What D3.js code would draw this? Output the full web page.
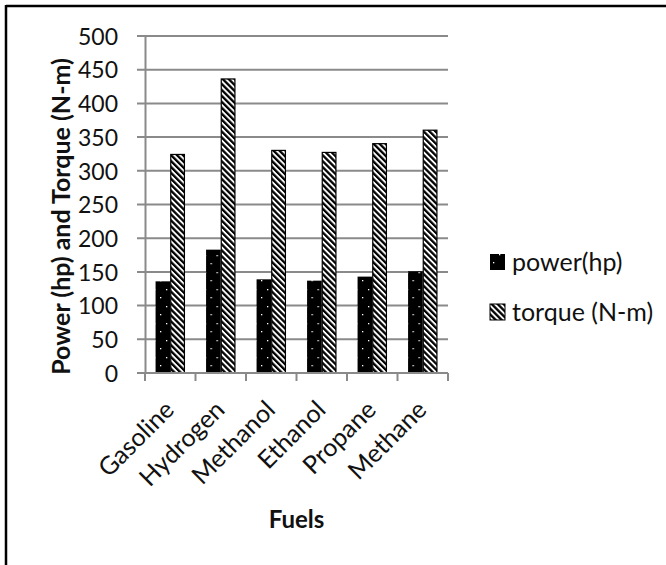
<!DOCTYPE html>
<html>
<head>
<meta charset="utf-8">
<script src="https://cdn.jsdelivr.net/npm/d3@7"></script>
<style>
  html, body { margin: 0; padding: 0; background: #fff; }
  svg { display: block; }
  text { font-family: Lato, "Open Sans", "DejaVu Sans", sans-serif; fill: #111; }
</style>
</head>
<body>
<svg id="chart" width="666" height="565"></svg>
<script>
const categories = ["Gasoline", "Hydrogen", "Methanol", "Ethanol", "Propane", "Methane"];
const seriesNames = ["power(hp)", "torque (N-m)"];
const powerValues = [136, 183, 139, 137, 143, 151];
const torqueValues = [325, 437, 331, 328, 341, 361];
const yTicks = [0, 50, 100, 150, 200, 250, 300, 350, 400, 450, 500];
const xTitle = "Fuels";
const yTitle = "Power (hp) and Torque (N-m)";

const svg = d3.select("#chart");
const W = 666, H = 565;
const plot = { left: 145, right: 448, top: 36, bottom: 373 };

// frame: top and left border only
svg.append("line").attr("x1", 6).attr("x2", W).attr("y1", 6).attr("y2", 6)
  .attr("stroke", "#000").attr("stroke-width", 2.5);
svg.append("line").attr("x1", 6).attr("x2", 6).attr("y1", 5).attr("y2", H)
  .attr("stroke", "#000").attr("stroke-width", 2.5);

// patterns
const defs = svg.append("defs");
const dots = defs.append("pattern").attr("id", "dots").attr("patternUnits", "userSpaceOnUse")
  .attr("width", 12).attr("height", 17);
dots.append("rect").attr("width", 12).attr("height", 17).attr("fill", "#000");
dots.append("rect").attr("x", 3).attr("y", 8).attr("width", 1.3).attr("height", 1.3).attr("fill", "#fff");
dots.append("rect").attr("x", 9).attr("y", 0).attr("width", 1.3).attr("height", 1.3).attr("fill", "#fff");

const stripes = defs.append("pattern").attr("id", "stripes").attr("patternUnits", "userSpaceOnUse")
  .attr("width", 4.2).attr("height", 4.2).attr("patternTransform", "rotate(45)");
stripes.append("rect").attr("width", 4.2).attr("height", 4.2).attr("fill", "#000");
stripes.append("rect").attr("width", 4.2).attr("height", 1.9).attr("fill", "#fff");

const x = d3.scaleBand().domain(categories).range([plot.left, plot.right]).paddingInner(0).paddingOuter(0);
const xs = d3.scaleBand().domain(seriesNames).range([0, x.bandwidth()]).paddingInner(0).paddingOuter(0.72);
const y = d3.scaleLinear().domain([0, 500]).range([plot.bottom, plot.top]);

// gridlines
const gridG = svg.append("g");
gridG.selectAll("line").data(yTicks).join("line")
  .attr("x1", plot.left - 8).attr("x2", plot.right)
  .attr("y1", d => y(d)).attr("y2", d => y(d))
  .attr("stroke", "#8a8a8a").attr("stroke-width", 2);

// y axis
const yAxis = d3.axisLeft(y).tickValues(yTicks).tickSize(0).tickPadding(27);
const yg = svg.append("g").attr("transform", `translate(${plot.left},0)`).call(yAxis);
yg.select(".domain").attr("stroke", "#8a8a8a").attr("stroke-width", 2);
yg.selectAll("text").attr("font-size", 23).attr("font-family", "Lato, sans-serif").attr("fill", "#111").attr("dy", "0.36em");

// bars
const data = categories.map((c, i) => ({ c, power: powerValues[i], torque: torqueValues[i] }));
const groups = svg.append("g").selectAll("g").data(data).join("g")
  .attr("transform", d => `translate(${x(d.c)},0)`);
groups.append("rect")
  .attr("x", xs(seriesNames[0])).attr("width", xs.bandwidth())
  .attr("y", d => y(d.power)).attr("height", d => y(0) - y(d.power))
  .attr("fill", "url(#dots)");
groups.append("rect")
  .attr("x", xs(seriesNames[1]) + 0.5).attr("width", xs.bandwidth() - 1)
  .attr("y", d => y(d.torque) + 0.5).attr("height", d => y(0) - y(d.torque) - 0.5)
  .attr("fill", "url(#stripes)").attr("stroke", "#000").attr("stroke-width", 1.2);

// x axis
const xAxis = d3.axisBottom(x).tickSize(0).tickFormat("");
const xg = svg.append("g").attr("transform", `translate(0,${plot.bottom})`).call(xAxis);
xg.select(".domain").remove();
svg.append("line").attr("x1", plot.left - 8).attr("x2", plot.right)
  .attr("y1", plot.bottom).attr("y2", plot.bottom).attr("stroke", "#8a8a8a").attr("stroke-width", 2);
const tickPos = categories.map(c => x(c)).concat([plot.right]);
svg.append("g").selectAll("line").data(tickPos).join("line")
  .attr("x1", d => d).attr("x2", d => d).attr("y1", plot.bottom).attr("y2", plot.bottom + 8)
  .attr("stroke", "#8a8a8a").attr("stroke-width", 2);

// x labels
svg.append("g").selectAll("text").data(categories).join("text")
  .attr("transform", c => `translate(${x(c) + x.bandwidth() / 2 - 1},${plot.bottom + 32}) rotate(-45)`)
  .attr("text-anchor", "end").attr("dy", "0.36em")
  .attr("font-size", 25)
  .text(c => c);

// axis titles
svg.append("text").attr("x", (plot.left + plot.right) / 2).attr("y", 528)
  .attr("text-anchor", "middle").attr("font-size", 24).attr("font-weight", "bold").text(xTitle);
svg.append("text").attr("transform", `translate(70,${(plot.top + plot.bottom) / 2 + 12}) rotate(-90)`)
  .attr("text-anchor", "middle").attr("font-size", 25).attr("font-weight", "bold").text(yTitle);

// legend
const legend = svg.append("g").attr("transform", "translate(490,254)");
const legItems = legend.selectAll("g").data(seriesNames).join("g")
  .attr("transform", (d, i) => `translate(0,${i * 50})`);
legItems.append("rect").attr("x", 0).attr("y", 0).attr("width", 15).attr("height", 16)
  .attr("fill", (d, i) => i === 0 ? "url(#dots)" : "url(#stripes)")
  .attr("stroke", (d, i) => i === 0 ? "none" : "#000").attr("stroke-width", 1);
legItems.append("text").attr("x", 22).attr("y", 8).attr("dy", "0.36em")
  .attr("font-size", 25).text(d => d);
</script>
</body>
</html>
